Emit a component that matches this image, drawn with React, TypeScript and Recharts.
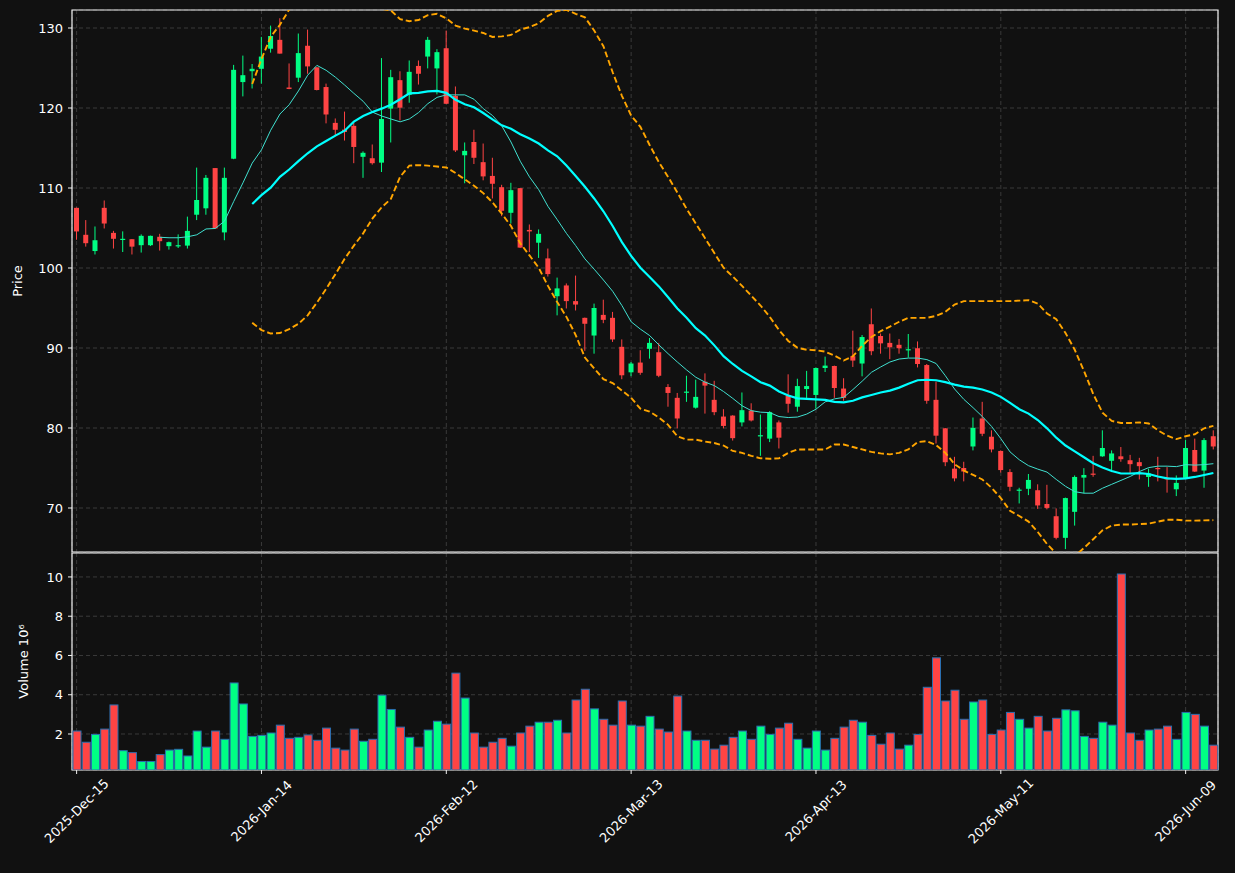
import React from 'react';
import { ComposedChart, Bar, Line, XAxis, YAxis, CartesianGrid, ReferenceArea } from 'recharts';

// ---- raw data ----
const opens = [107.52, 104.15, 102.12, 107.52, 104.39, 103.55, 103.6, 102.85, 102.85, 103.9,
  102.73, 102.7, 102.8, 106.66, 107.46, 112.49, 104.45, 113.66, 123.24, 124.6,
  124.9, 127.41, 128.52, 122.56, 123.79, 127.78, 125.08, 122.62, 118.14, 117.3,
  117.77, 113.9, 113.72, 113.17, 119.92, 123.48, 121.64, 125.26, 126.43, 124.95,
  127.47, 121.52, 114.09, 115.75, 113.23, 111.51, 110.1, 106.9, 109.98, 104.76,
  103.16, 101.2, 96.47, 97.82, 95.86, 93.77, 91.56, 94.14, 93.77, 90.15,
  86.96, 88.18, 89.9, 89.47, 85.12, 83.77, 84.45, 82.54, 85.79, 83.52,
  81.43, 81.55, 80.7, 82.17, 79.0, 78.67, 80.7, 84.07, 82.66, 84.87,
  84.13, 87.5, 87.75, 84.93, 88.98, 88.06, 92.97, 91.5, 90.64, 90.4,
  89.75, 89.97, 87.87, 83.52, 79.96, 74.92, 75.0, 77.69, 81.19, 78.91,
  77.13, 74.49, 72.2, 72.4, 72.22, 70.5, 68.97, 66.27, 69.52, 73.8,
  74.3, 76.46, 75.9, 76.46, 75.97, 75.73, 73.88, 75.0, 73.82, 72.34,
  73.76, 77.25, 74.68, 78.97];
const highs = [107.55, 105.99, 105.19, 108.44, 104.64, 104.58, 103.62, 104.2, 104.05, 104.27,
  103.3, 104.2, 106.42, 112.55, 111.63, 112.5, 112.55, 125.39, 126.55, 125.5,
  128.89, 130.3, 131.22, 125.57, 129.31, 129.8, 125.1, 123.05, 118.69, 119.55,
  118.14, 114.58, 115.44, 126.24, 124.77, 124.59, 125.94, 125.94, 128.89, 127.35,
  129.68, 122.69, 115.69, 117.28, 115.56, 113.78, 110.4, 110.65, 110.0, 105.44,
  104.82, 102.43, 98.8, 98.07, 99.05, 93.8, 95.55, 96.04, 94.51, 91.07,
  88.25, 89.72, 91.25, 90.64, 85.49, 84.38, 86.53, 86.04, 86.83, 85.9,
  82.35, 81.6, 84.44, 83.09, 81.68, 82.1, 80.94, 86.71, 86.16, 87.14,
  87.55, 88.92, 87.8, 86.22, 92.17, 91.62, 94.94, 91.81, 91.81, 91.13,
  91.75, 90.82, 88.0, 85.79, 80.0, 76.4, 75.78, 81.31, 83.27, 79.71,
  77.2, 74.86, 72.53, 74.25, 72.96, 72.9, 69.95, 71.3, 74.07, 74.98,
  76.52, 79.71, 77.2, 77.62, 76.64, 76.27, 74.92, 76.4, 75.11, 74.07,
  78.49, 78.67, 78.73, 79.71];
const lows = [103.53, 102.67, 101.69, 104.94, 102.43, 102.0, 101.69, 101.93, 102.75, 102.18,
  102.3, 102.5, 102.43, 105.99, 106.66, 104.9, 103.47, 113.6, 121.45, 122.44,
  123.05, 126.92, 126.8, 122.35, 123.24, 124.28, 122.2, 118.08, 116.55, 115.93,
  113.1, 111.27, 112.92, 112.0, 115.69, 118.45, 120.66, 122.93, 124.95, 121.7,
  120.5, 114.5, 110.59, 113.0, 110.96, 108.69, 106.48, 105.56, 102.5, 102.0,
  101.26, 98.93, 94.08, 94.94, 94.69, 89.65, 89.29, 93.1, 90.76, 86.1,
  86.47, 86.65, 88.67, 86.35, 82.66, 79.96, 83.27, 82.42, 81.8, 81.6,
  79.96, 78.43, 80.2, 80.82, 76.52, 78.24, 77.44, 81.92, 82.04, 83.58,
  82.42, 87.0, 83.77, 83.4, 87.63, 86.46, 89.1, 89.29, 88.61, 89.29,
  88.8, 87.57, 83.03, 78.06, 75.23, 73.33, 73.33, 77.2, 78.98, 76.95,
  74.43, 72.1, 70.57, 71.61, 69.89, 69.83, 66.08, 64.86, 67.8, 71.85,
  73.9, 76.4, 74.49, 75.78, 74.37, 73.57, 72.65, 73.33, 71.92, 71.49,
  73.7, 74.5, 72.53, 77.32];
const closes = [104.57, 103.1, 103.47, 105.56, 103.65, 103.65, 102.67, 104.02, 104.02, 103.35,
  103.23, 102.85, 104.64, 108.5, 111.27, 104.94, 111.27, 124.77, 124.1, 124.9,
  126.43, 129.0, 126.8, 122.38, 126.86, 125.2, 122.25, 119.19, 117.28, 117.0,
  115.13, 114.4, 113.1, 118.63, 123.85, 120.04, 124.52, 124.28, 128.52, 126.98,
  120.53, 114.7, 114.64, 113.78, 111.45, 110.53, 107.15, 109.73, 102.55, 104.57,
  104.27, 99.24, 97.45, 95.86, 95.43, 93.03, 95.0, 93.52, 91.07, 86.59,
  88.06, 86.9, 90.64, 86.53, 84.38, 81.19, 84.55, 83.89, 85.3, 81.98,
  80.26, 78.73, 82.23, 80.94, 79.1, 81.98, 78.79, 83.03, 85.24, 85.24,
  87.5, 87.8, 85.0, 83.77, 88.43, 91.37, 89.6, 90.58, 90.09, 89.97,
  89.85, 88.0, 83.4, 79.04, 75.72, 73.7, 74.56, 80.02, 79.28, 77.32,
  74.74, 72.65, 72.3, 73.51, 70.32, 70.01, 66.27, 71.24, 73.88, 74.13,
  74.2, 77.5, 76.82, 76.1, 75.48, 75.23, 74.31, 74.9, 73.57, 73.14,
  77.5, 74.55, 78.49, 77.69];
// volume in millions
const volumes = [2.15, 1.58, 1.98, 2.25, 3.48, 1.15, 1.05, 0.6, 0.6, 0.95,
  1.18, 1.22, 0.88, 2.15, 1.33, 2.15, 1.73, 4.6, 3.53, 1.88,
  1.93, 2.05, 2.45, 1.78, 1.83, 1.95, 1.68, 2.3, 1.28, 1.18,
  2.25, 1.63, 1.73, 3.98, 3.25, 2.35, 1.83, 1.33, 2.2, 2.65,
  2.5, 5.1, 3.83, 2.05, 1.33, 1.58, 1.78, 1.38, 2.05, 2.4,
  2.6, 2.6, 2.7, 2.05, 3.73, 4.28, 3.28, 2.75, 2.45, 3.68,
  2.45, 2.4, 2.9, 2.25, 2.1, 3.93, 2.15, 1.68, 1.68, 1.23,
  1.43, 1.83, 2.15, 1.73, 2.4, 1.98, 2.3, 2.55, 1.73, 1.28,
  2.15, 1.18, 1.78, 2.35, 2.7, 2.6, 1.93, 1.48, 2.05, 1.23,
  1.43, 1.98, 4.38, 5.88, 3.68, 4.23, 2.75, 3.63, 3.73, 1.98,
  2.2, 3.1, 2.75, 2.3, 2.9, 2.15, 2.8, 3.23, 3.18, 1.88,
  1.78, 2.6, 2.45, 10.15, 2.05, 1.68, 2.2, 2.25, 2.4, 1.73,
  3.1, 3.0, 2.4, 1.43];

// 10-period moving average (thin line), starts at candle 9
const ma10Start = 9;
const ma10Values = [103.84, 103.78, 103.78, 103.9, 104.15, 104.88, 104.94, 105.86, 108.32, 110.65,
  113.11, 114.77, 117.22, 119.25, 120.41, 122.13, 124.1, 125.33, 124.71, 123.85,
  122.87, 121.83, 120.84, 119.49, 119.0, 118.63, 118.27, 118.63, 119.43, 120.54,
  121.33, 121.64, 121.64, 121.64, 121.09, 119.92, 119.06, 117.77, 115.75, 113.35,
  111.39, 109.79, 107.7, 106.05, 104.33, 102.8, 101.14, 99.85, 98.5, 97.09,
  95.31, 93.28, 92.36, 91.56, 90.39, 89.29, 88.25, 87.26, 86.34, 85.73,
  85.3, 84.56, 83.7, 82.78, 82.17, 81.98, 81.92, 81.43, 81.31, 81.37,
  81.74, 82.35, 83.27, 83.64, 83.83, 84.81, 85.85, 86.96, 87.63, 88.25,
  88.62, 88.74, 88.74, 88.55, 88.06, 86.53, 84.87, 83.58, 82.54, 81.43,
  80.2, 78.67, 77.01, 76.03, 75.29, 74.86, 74.49, 73.57, 72.71, 72.04,
  71.85, 71.85, 72.47, 72.96, 73.45, 73.94, 74.56, 75.05, 75.23, 75.23,
  75.17, 75.42, 75.36, 75.42, 75.54];
// 20-period moving average (thick line) and Bollinger bands, start at candle 19
const ma20Start = 19;
const ma20Values = [108.0, 109.1, 110.04, 111.39, 112.31, 113.35, 114.34, 115.2, 115.87, 116.55,
  117.16, 118.3, 119.0, 119.49, 119.92, 120.41, 121.09, 121.83, 121.9, 122.07,
  122.13, 121.9, 121.03, 120.47, 120.1, 119.37, 118.57, 117.83, 117.4, 116.73,
  116.18, 115.56, 114.7, 113.97, 112.8, 111.51, 110.16, 108.69, 107.09, 105.25,
  103.23, 101.51, 100.03, 98.87, 97.7, 96.35, 94.94, 93.77, 92.48, 91.56,
  90.33, 88.98, 88.0, 87.14, 86.46, 85.73, 85.3, 84.56, 84.07, 83.7,
  83.64, 83.58, 83.52, 83.27, 83.21, 83.4, 83.83, 84.13, 84.44, 84.68,
  85.05, 85.54, 85.97, 86.03, 85.97, 85.73, 85.42, 85.18, 85.05, 84.81,
  84.44, 83.89, 83.15, 82.35, 81.8, 81.0, 79.96, 78.79, 77.81, 77.07,
  76.34, 75.6, 75.05, 74.62, 74.31, 74.31, 74.37, 74.25, 73.94, 73.7,
  73.64, 73.7, 73.88, 74.13, 74.37];
const bbUpperValues = [123.0, 126.1, 128.9, 130.4, 132.3, 133.6, 134.5, 134.7, 134.4, 133.9,
  133.3, 133.6, 133.5, 132.8, 132.4, 132.2, 131.1, 130.85, 131.0, 131.6,
  131.77, 131.2, 130.3, 129.93, 129.68, 129.38, 128.88, 128.95, 129.13, 129.8,
  130.11, 130.6, 131.52, 132.14, 132.26, 131.77, 131.34, 129.68, 127.72, 124.47,
  121.52, 119.06, 117.65, 115.38, 113.23, 111.39, 109.43, 107.4, 105.56, 103.72,
  101.88, 100.03, 98.93, 97.76, 96.53, 95.31, 93.89, 92.24, 90.88, 90.03,
  89.78, 89.72, 89.54, 89.05, 88.43, 88.98, 90.27, 91.37, 92.11, 92.67,
  93.28, 93.77, 93.77, 93.77, 94.02, 94.51, 95.43, 95.86, 95.86, 95.86,
  95.86, 95.86, 95.86, 95.92, 95.98, 95.55, 94.32, 93.59, 91.87, 89.78,
  87.14, 84.25, 81.92, 80.88, 80.63, 80.63, 80.7, 80.57, 79.71, 79.04,
  78.61, 78.97, 79.22, 79.96, 80.27];
const bbLowerValues = [93.16, 92.24, 91.81, 91.87, 92.36, 93.03, 94.08, 95.68, 97.39, 99.23,
  101.14, 102.8, 104.33, 106.17, 107.58, 108.63, 111.39, 112.8, 112.86, 112.8,
  112.68, 112.56, 111.88, 111.08, 110.28, 109.36, 108.2, 106.79, 105.25, 103.1,
  101.57, 100.03, 97.76, 95.74, 93.89, 91.62, 88.8, 87.45, 86.1, 85.61,
  84.69, 83.77, 82.41, 82.05, 81.31, 80.39, 78.97, 78.55, 78.55, 78.3,
  78.12, 77.81, 77.13, 76.89, 76.52, 76.21, 76.15, 76.21, 76.89, 77.32,
  77.32, 77.32, 77.32, 77.93, 77.93, 77.62, 77.32, 77.01, 76.83, 76.71,
  76.89, 77.32, 78.24, 78.36, 77.87, 76.89, 75.48, 74.68, 74.13, 73.57,
  72.53, 71.24, 69.65, 69.0, 68.3, 67.0, 65.5, 64.3, 63.7, 64.0,
  65.0, 66.1, 67.2, 67.8, 67.93, 67.93, 67.99, 68.05, 68.3, 68.54,
  68.54, 68.42, 68.42, 68.45, 68.48];

// x-axis ticks: candle index -> date label
const tickIndices = [0, 20, 40, 60, 80, 100, 120];
const tickLabels = ['2025-Dec-15', '2026-Jan-14', '2026-Feb-12', '2026-Mar-13', '2026-Apr-13', '2026-May-11', '2026-Jun-09'];
const priceTicks = [70, 80, 90, 100, 110, 120, 130];
const priceDomain = [64.5, 132.25];
const volumeTicks = [2, 4, 6, 8, 10];
const volumeDomain = [0.166, 11.22];

// ---- styling ----
const BG = '#111111';
const UP = '#00ff84';
const DOWN = '#ff4444';
const VOL_EDGE = '#2a6fb0';
const GRID = '#3a3a3a';
const FRAME = '#f2f2f2';
const TEXT = '#ffffff';
const FONT = 'DejaVu Sans, sans-serif';
const BODY_W = 5;

const pick = (vals: number[], start: number, i: number) => (i >= start ? vals[i - start] : null);

const data = opens.map((o, i) => ({
  i,
  o,
  h: highs[i],
  l: lows[i],
  c: closes[i],
  v: volumes[i],
  range: [lows[i], highs[i]],
  ma10: pick(ma10Values, ma10Start, i),
  ma20: pick(ma20Values, ma20Start, i),
  bbU: pick(bbUpperValues, ma20Start, i),
  bbL: pick(bbLowerValues, ma20Start, i),
}));

const Candle = (props: any) => {
  const { x, y, width, height, payload } = props;
  if (!payload || x == null || y == null) return null;
  const { o, h, l, c } = payload;
  const color = c >= o ? UP : DOWN;
  const span = h - l;
  const py = (v: number) => (span === 0 ? y : y + ((h - v) / span) * height);
  const cx = x + width / 2;
  const top = py(Math.max(o, c));
  const bot = py(Math.min(o, c));
  return (
    <g>
      <line x1={cx} x2={cx} y1={y} y2={y + height} stroke={color} strokeWidth={1} />
      <rect x={cx - BODY_W / 2} y={top} width={BODY_W} height={Math.max(bot - top, 1.2)} fill={color} />
    </g>
  );
};

const VolBar = (props: any) => {
  const { x, y, width, height, payload } = props;
  if (!payload || x == null || y == null) return null;
  const color = payload.c >= payload.o ? UP : DOWN;
  return <rect x={x} y={y} width={width} height={Math.max(height, 0)} fill={color} stroke={VOL_EDGE} strokeWidth={1} />;
};

const labelFor = (v: any) => {
  const k = tickIndices.indexOf(Number(v));
  return k >= 0 ? tickLabels[k] : '';
};

const XTick = (props: any) => {
  const { x, y, payload } = props;
  return (
    <g transform={`translate(${x},${y + 35})`}>
      <text
        x={0}
        y={0}
        textAnchor="middle"
        dominantBaseline="central"
        transform="rotate(-45)"
        fill={TEXT}
        fontSize={13}
        fontFamily={FONT}
      >
        {labelFor(payload.value)}
      </text>
    </g>
  );
};

const yTickStyle = { fill: TEXT, fontSize: 13, fontFamily: FONT };

export default function App() {
  return (
    <div style={{ position: 'fixed', left: 0, top: 0, width: 1235, height: 873, background: BG, overflow: 'hidden' }}>
      <div style={{ position: 'absolute', left: 0, top: 0 }}>
        <ComposedChart width={1235} height={560} data={data} margin={{ top: 10, right: 17, left: 12, bottom: 8 }}>
          <CartesianGrid stroke={GRID} strokeDasharray="4 3" />
          <XAxis dataKey="i" type="category" hide ticks={tickIndices} interval={0} />
          <YAxis
            type="number"
            domain={priceDomain}
            ticks={priceTicks}
            allowDataOverflow
            width={60}
            axisLine={false}
            tickLine={{ stroke: FRAME }}
            tickSize={4}
            tickMargin={5}
            tick={yTickStyle}
            label={{ value: 'Price', angle: -90, position: 'insideLeft', offset: 5, style: { textAnchor: 'middle', fill: TEXT, fontSize: 13, fontFamily: FONT } }}
          />
          <ReferenceArea y1={priceDomain[0]} y2={priceDomain[1]} fill="none" stroke={FRAME} strokeWidth={1.2} ifOverflow="visible" />
          <Bar dataKey="range" barSize={BODY_W} shape={<Candle />} isAnimationActive={false} />
          <Line type="linear" dataKey="ma10" stroke="#40e0d0" strokeWidth={1} dot={false} isAnimationActive={false} />
          <Line type="linear" dataKey="ma20" stroke="#00ffff" strokeWidth={2.2} dot={false} isAnimationActive={false} />
          <Line type="linear" dataKey="bbU" stroke="#ffa500" strokeWidth={1.9} strokeDasharray="6 3" dot={false} isAnimationActive={false} />
          <Line type="linear" dataKey="bbL" stroke="#ffa500" strokeWidth={1.9} strokeDasharray="6 3" dot={false} isAnimationActive={false} />
        </ComposedChart>
      </div>
      <div style={{ position: 'absolute', left: 0, top: 545 }}>
        <ComposedChart width={1235} height={328} data={data} margin={{ top: 8, right: 17, left: 12, bottom: 0 }}>
          <CartesianGrid stroke={GRID} strokeDasharray="4 3" />
          <XAxis
            dataKey="i"
            type="category"
            ticks={tickIndices}
            interval={0}
            height={103}
            axisLine={false}
            tickLine={{ stroke: FRAME }}
            tickSize={4}
            tick={<XTick />}
          />
          <YAxis
            type="number"
            domain={volumeDomain}
            ticks={volumeTicks}
            allowDataOverflow
            width={60}
            axisLine={false}
            tickLine={{ stroke: FRAME }}
            tickSize={4}
            tickMargin={5}
            tick={yTickStyle}
            label={{ value: 'Volume  10⁶', angle: -90, position: 'insideLeft', offset: 11, style: { textAnchor: 'middle', fill: TEXT, fontSize: 13, fontFamily: FONT } }}
          />
          <ReferenceArea y1={volumeDomain[0]} y2={volumeDomain[1]} fill="none" stroke={FRAME} strokeWidth={1.2} ifOverflow="visible" />
          <Bar dataKey="v" barSize={8} shape={<VolBar />} isAnimationActive={false} />
        </ComposedChart>
      </div>
    </div>
  );
}
